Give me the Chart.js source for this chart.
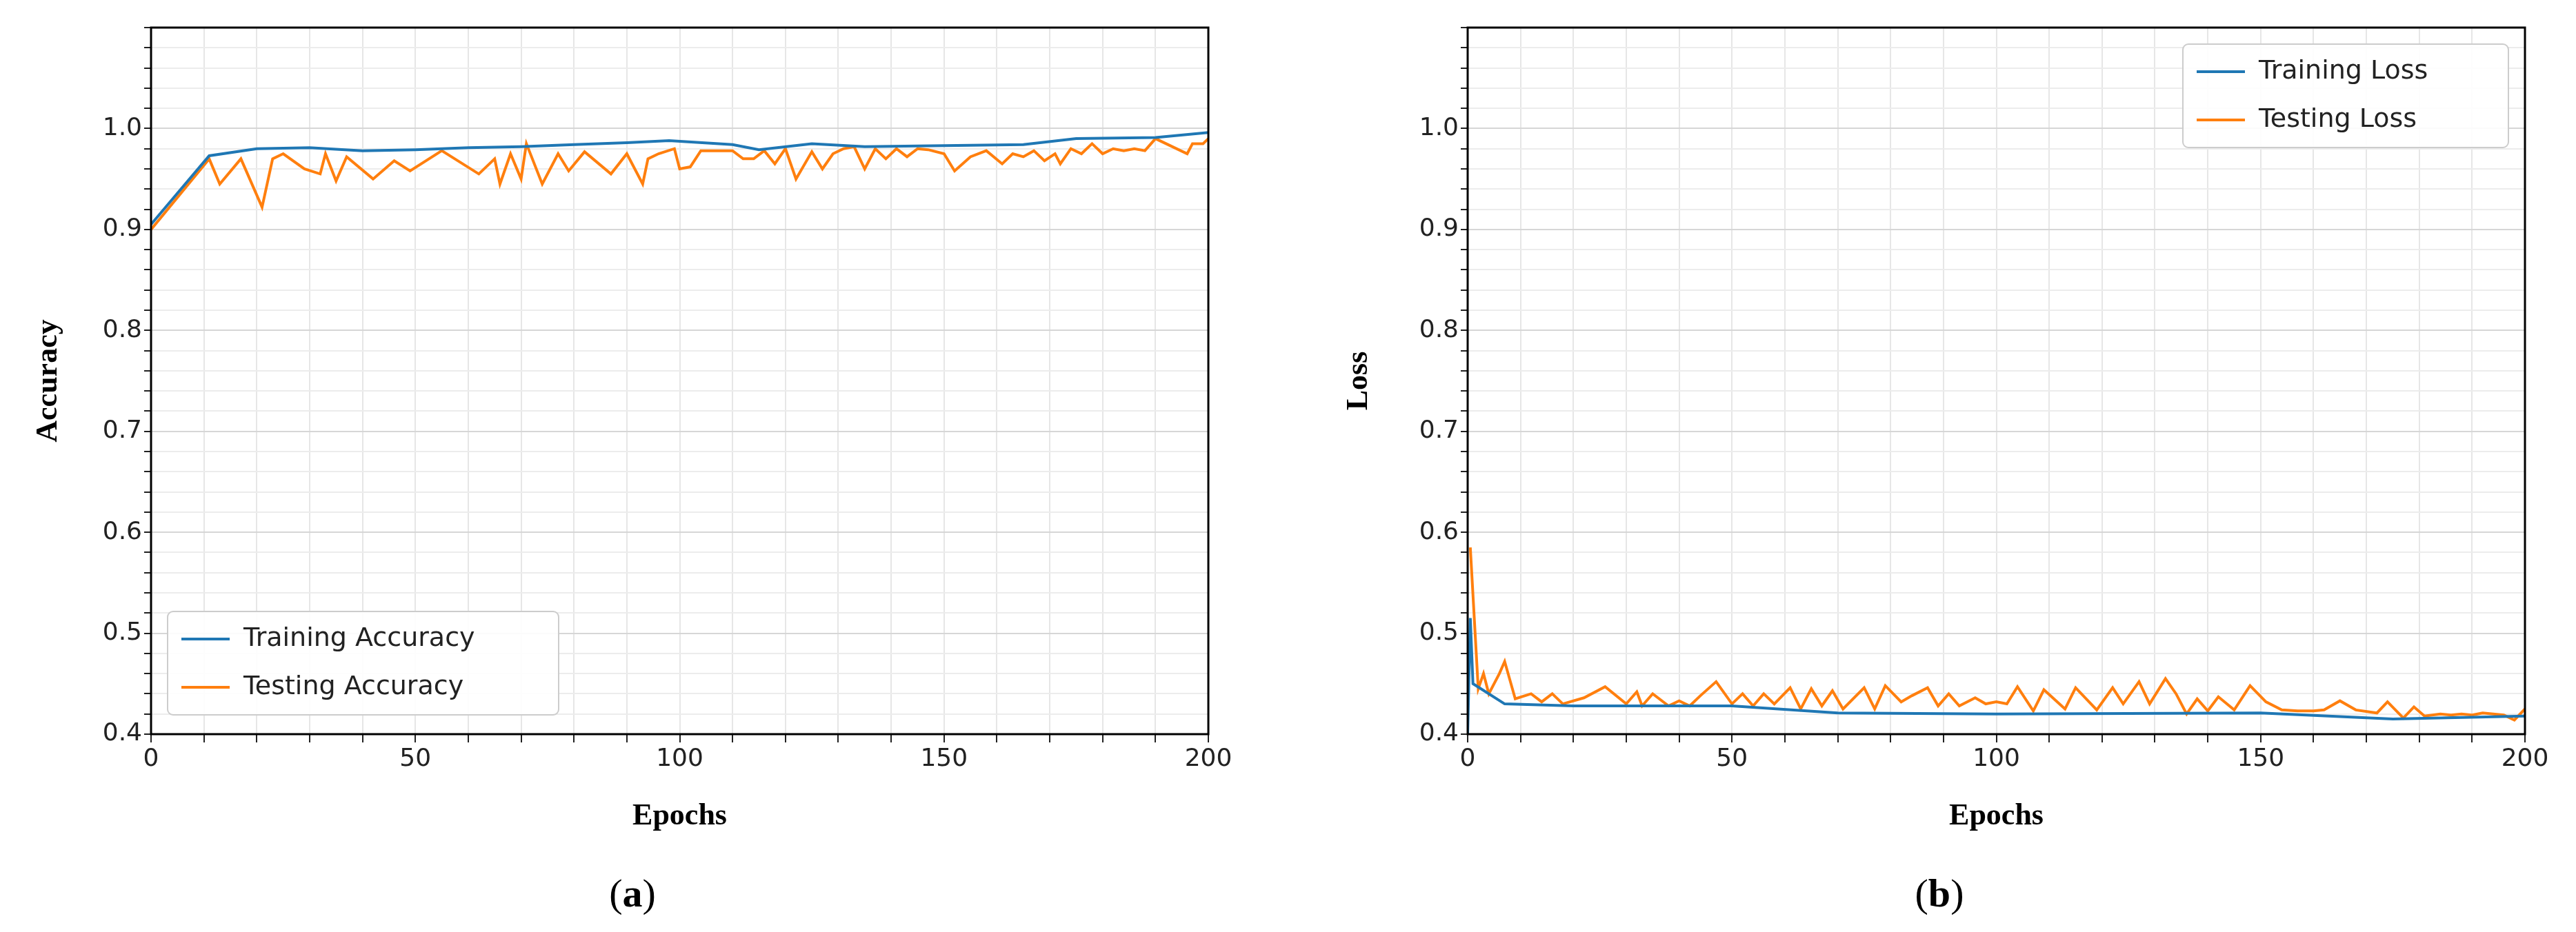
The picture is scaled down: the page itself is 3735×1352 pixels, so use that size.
<!DOCTYPE html>
<html><head><meta charset="utf-8">
<script src="https://cdn.jsdelivr.net/npm/chart.js@4/dist/chart.umd.min.js"></script>
<style>
body{margin:0;background:#fff;width:3735px;height:1352px;position:relative;overflow:hidden}
.box{position:absolute;top:0;height:1215px}
.cap{position:absolute;top:1262px;font:58px "Liberation Serif",serif;transform:translateX(-50%)}
</style></head><body>
<div class="box" style="left:40px;width:1760px"><canvas id="acc"></canvas></div>
<div class="box" style="left:1940px;width:1769px"><canvas id="loss"></canvas></div>
<div class="cap" style="left:917px">(<b>a</b>)</div>
<div class="cap" style="left:2812px">(<b>b</b>)</div>
<script>
const trainAccEpochs = [0, 11, 20, 30, 40, 50, 60, 70, 80, 90, 98, 110, 115, 125, 135, 150, 165, 175, 190, 200];
const trainAcc = [0.905, 0.973, 0.980, 0.981, 0.978, 0.979, 0.981, 0.982, 0.984, 0.986, 0.988, 0.984, 0.979, 0.985, 0.982, 0.983, 0.984, 0.990, 0.991, 0.996];
const testAccEpochs = [0, 11, 13, 17, 21, 23, 25, 29, 32, 33, 35, 37, 42, 46, 49, 55, 62, 65, 66, 68, 70, 71, 74, 77, 79, 82, 87, 90, 93, 94, 96, 99, 100, 102, 104, 110, 112, 114, 116, 118, 120, 122, 125, 127, 129, 131, 133, 135, 137, 139, 141, 143, 145, 147, 150, 152, 155, 158, 161, 163, 165, 167, 169, 171, 172, 174, 176, 178, 180, 182, 184, 186, 188, 190, 196, 197, 199, 200];
const testAcc = [0.900, 0.970, 0.945, 0.970, 0.922, 0.970, 0.975, 0.960, 0.955, 0.975, 0.948, 0.972, 0.950, 0.968, 0.958, 0.978, 0.955, 0.970, 0.945, 0.975, 0.950, 0.985, 0.945, 0.975, 0.958, 0.977, 0.955, 0.975, 0.945, 0.970, 0.975, 0.980, 0.960, 0.962, 0.978, 0.978, 0.970, 0.970, 0.978, 0.965, 0.980, 0.950, 0.977, 0.960, 0.975, 0.980, 0.982, 0.960, 0.980, 0.970, 0.980, 0.972, 0.980, 0.979, 0.975, 0.958, 0.972, 0.978, 0.965, 0.975, 0.972, 0.978, 0.968, 0.975, 0.965, 0.980, 0.975, 0.985, 0.975, 0.980, 0.978, 0.980, 0.978, 0.990, 0.975, 0.985, 0.985, 0.990];
const trainLossEpochs = [0, 0.5, 1, 7, 20, 50, 70, 100, 150, 175, 200];
const trainLoss = [0.400, 0.515, 0.450, 0.430, 0.428, 0.428, 0.421, 0.420, 0.421, 0.415, 0.418];
const testLossEpochs = [0.5, 2, 3, 4, 6, 7, 9, 12, 14, 16, 18, 22, 26, 30, 32, 33, 35, 38, 40, 42, 44, 47, 50, 52, 54, 56, 58, 61, 63, 65, 67, 69, 71, 75, 77, 79, 82, 84, 87, 89, 91, 93, 96, 98, 100, 102, 104, 107, 109, 113, 115, 119, 122, 124, 127, 129, 132, 134, 136, 138, 140, 142, 145, 148, 151, 154, 157, 160, 162, 165, 168, 172, 174, 177, 179, 181, 184, 186, 188, 190, 192, 194, 196, 198, 200];
const testLoss = [0.585, 0.445, 0.460, 0.440, 0.460, 0.472, 0.435, 0.440, 0.432, 0.440, 0.430, 0.436, 0.447, 0.430, 0.442, 0.428, 0.440, 0.428, 0.433, 0.428, 0.438, 0.452, 0.430, 0.440, 0.428, 0.440, 0.430, 0.446, 0.425, 0.445, 0.428, 0.443, 0.425, 0.446, 0.425, 0.448, 0.432, 0.438, 0.446, 0.428, 0.440, 0.428, 0.436, 0.430, 0.432, 0.430, 0.447, 0.423, 0.444, 0.425, 0.446, 0.424, 0.446, 0.430, 0.452, 0.430, 0.455, 0.440, 0.420, 0.435, 0.423, 0.437, 0.424, 0.448, 0.432, 0.424, 0.423, 0.423, 0.424, 0.433, 0.424, 0.421, 0.432, 0.416, 0.427, 0.418, 0.420, 0.419, 0.420, 0.419, 0.421, 0.420, 0.419, 0.414, 0.425];

const BLUE = "#1f77b4", ORANGE = "#ff7f0e";
const pts = (xs, ys) => xs.map((x, i) => ({ x, y: ys[i] }));
const near = (v, s) => Math.abs(v / s - Math.round(v / s)) < 1e-6;

// frame + legend drawn inside the plot area
const framePlugin = {
  id: "frame",
  afterDatasetsDraw(chart, args, opts) {
    const { ctx, chartArea: a } = chart;
    ctx.save();
    ctx.strokeStyle = "#000"; ctx.lineWidth = 3;
    ctx.strokeRect(a.left, a.top, a.right - a.left, a.bottom - a.top);
    const w = opts.w, h = 150;
    const x = opts.corner === "bl" ? a.left + 24 : a.right - w - 24;
    const y = opts.corner === "bl" ? a.bottom - h - 28 : a.top + 24;
    ctx.fillStyle = "rgba(255,255,255,0.9)"; ctx.strokeStyle = "#ccc"; ctx.lineWidth = 2;
    ctx.beginPath(); ctx.roundRect(x, y, w, h, 8); ctx.fill(); ctx.stroke();
    ctx.font = '38px "DejaVu Sans"'; ctx.textBaseline = "middle"; ctx.fillStyle = "#222";
    chart.data.datasets.forEach((d, i) => {
      const yy = y + 40 + i * 70;
      ctx.strokeStyle = d.borderColor; ctx.lineWidth = 4;
      ctx.beginPath(); ctx.moveTo(x + 20, yy); ctx.lineTo(x + 90, yy); ctx.stroke();
      ctx.fillText(d.label, x + 110, yy);
    });
    ctx.restore();
  }
};

function makeChart(id, yTitle, yWidth, sets, legend) {
  new Chart(document.getElementById(id), {
    type: "line",
    data: { datasets: sets.map(s => ({ label: s.label, data: s.data, borderColor: s.color, borderWidth: 4, pointRadius: 0, tension: 0, fill: false })) },
    plugins: [framePlugin],
    options: {
      responsive: true, maintainAspectRatio: false, animation: false,
      layout: { padding: { top: 40, right: 48 } },
      plugins: { legend: { display: false }, tooltip: { enabled: false }, frame: legend },
      scales: {
        x: {
          type: "linear", min: 0, max: 200,
          afterFit: s => { s.height = 150; },
          ticks: { stepSize: 10, autoSkip: false, maxRotation: 0, color: "#222", font: { size: 36, family: "DejaVu Sans" },
            callback: v => near(v, 50) ? v : "" },
          grid: { color: "#e6e6e6", lineWidth: 2, tickColor: "#222", tickLength: 12 },
          title: { display: true, text: "Epochs", color: "#000", font: { size: 44, weight: "bold", family: "Liberation Serif" } }
        },
        y: {
          min: 0.4, max: 1.1,
          afterFit: s => { s.width = yWidth; },
          afterBuildTicks: s => { s.ticks = []; for (let i = 0; i <= 35; i++) s.ticks.push({ value: 0.4 + i * 0.02 }); },
          ticks: { autoSkip: false, color: "#222", font: { size: 36, family: "DejaVu Sans" },
            callback: v => near(v, 0.1) && v < 1.05 ? v.toFixed(1) : "" },
          grid: { color: c => near(c.tick.value, 0.1) ? "#d6d6d6" : "#ececec", lineWidth: 2, tickColor: "#222", tickLength: 10 },
          title: { display: true, text: yTitle, color: "#000", font: { size: 44, weight: "bold", family: "Liberation Serif" } }
        }
      }
    }
  });
}

makeChart("acc", "Accuracy", 179, [
  { label: "Training Accuracy", data: pts(trainAccEpochs, trainAcc), color: BLUE },
  { label: "Testing Accuracy", data: pts(testAccEpochs, testAcc), color: ORANGE }
], { corner: "bl", w: 567 });
makeChart("loss", "Loss", 188, [
  { label: "Training Loss", data: pts(trainLossEpochs, trainLoss), color: BLUE },
  { label: "Testing Loss", data: pts(testLossEpochs, testLoss), color: ORANGE }
], { corner: "tr", w: 472 });
</script>
</body></html>
